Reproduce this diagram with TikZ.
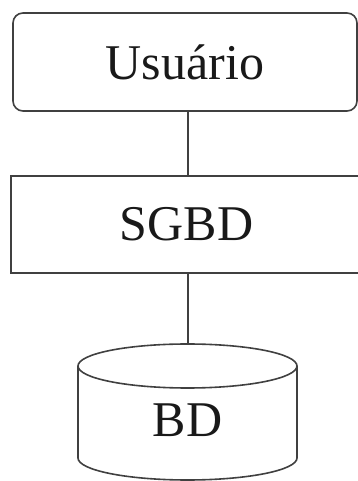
\documentclass[tikz,border=0pt]{standalone}
\usepackage{fontspec}
\setmainfont{Liberation Serif}
\begin{document}
\begin{tikzpicture}[x=1pt,y=1pt,
  frame/.style={draw=black!75, line width=1.6pt},
  txt/.style={font=\fontsize{50}{54}\selectfont, text=black!90},
  link/.style={draw=black!75, line width=1.6pt}]
\useasboundingbox (0,0) rectangle (358,481);
\clip (0,0) rectangle (358,481);
% user box
\node[frame, rounded corners=10pt, minimum width=344pt, minimum height=98pt,
      inner sep=0pt, outer sep=0pt, txt] (usuario) at (185,419) {Usuário};
% DBMS box
\node[frame, minimum width=351pt, minimum height=97pt,
      inner sep=0pt, outer sep=0pt, txt] (sgbd) at (186.5,256.5) {SGBD};
% database cylinder
\draw[frame, fill=white] (78,115) -- (78,23)
  arc[start angle=180, end angle=360, x radius=109.5pt, y radius=22pt] -- (297,115);
\draw[frame] (187.5,115) ellipse [x radius=109.5pt, y radius=22pt];
\coordinate (bdtop) at (188,137);
\node[txt] (bd) at (187.5,61) {BD};
% connectors
\draw[link] (usuario.south -| bdtop) -- (sgbd.north -| bdtop);
\draw[link] (sgbd.south -| bdtop) -- (bdtop);
\end{tikzpicture}
\end{document}
